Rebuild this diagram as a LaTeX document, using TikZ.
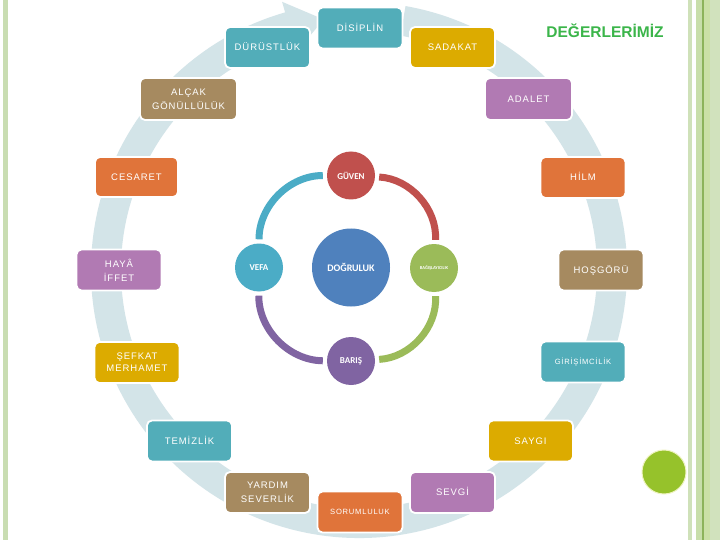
\documentclass[tikz,border=0pt]{standalone}
\usepackage{fontspec}
\setmainfont{Liberation Sans}
\newfontfamily\boxfont[LetterSpace=10]{Liberation Sans}
\newfontfamily\circfont{Carlito}
\definecolor{cteal}{HTML}{52ADB9}
\definecolor{cgold}{HTML}{DCAB00}
\definecolor{cbrown}{HTML}{A68A60}
\definecolor{corange}{HTML}{E0743A}
\definecolor{cpurple}{HTML}{B17AB3}
\definecolor{ringc}{HTML}{D3E4E8}
\definecolor{cred}{HTML}{C0504D}
\definecolor{cblueb}{HTML}{4F81BD}
\definecolor{ctealb}{HTML}{4BACC6}
\definecolor{cgreenb}{HTML}{9BBB59}
\definecolor{cviolet}{HTML}{8064A2}
\definecolor{ctitle}{HTML}{3BB54A}
\definecolor{dotgreen}{HTML}{96C22B}
\definecolor{dotedge}{HTML}{EEF3C0}
\definecolor{stA}{HTML}{C9DDB2}
\definecolor{stB}{HTML}{CFE1B9}
\definecolor{stC}{HTML}{C8DEAA}
\definecolor{stD}{HTML}{8DB35A}
\definecolor{stE}{HTML}{CBE0A6}
\definecolor{stF}{HTML}{D1E2BD}
\begin{document}
\begin{tikzpicture}[x=1pt,y=-1pt,
  box/.style={rounded corners=5pt, draw=white, line width=1.8pt, minimum width=85pt, minimum height=41pt, inner sep=0pt, text=white, font=\boxfont\fontsize{9.5}{14}\selectfont},
  one/.style={text height=6.8pt, text depth=0pt},
  two/.style={align=center},
  small/.style={font=\boxfont\fontsize{7.6}{9}\selectfont, text height=5.5pt},
  ball/.style={circle, minimum size=48pt, inner sep=0pt, text=white, font=\circfont\bfseries\fontsize{9}{10}\selectfont},
  link/.style={line width=7pt, bend left=45, shorten >=4pt, shorten <=4pt}
]
\useasboundingbox (0,0) rectangle (720,540);
\fill[white] (0,0) rectangle (720,540);
% side stripes
\fill[stA] (3,0) rectangle (8,540);
\fill[stB] (688,0) rectangle (692,540);
\fill[stC] (696,0) rectangle (702,540);
\fill[stD] (702,0) rectangle (703.5,540);
\fill[stE] (703.5,0) rectangle (710,540);
\fill[stF] (710,0) rectangle (720,540);
% big circular arrow
\fill[ringc] ([shift={(359,270)}]-80:268) arc[start angle=-80,end angle=254,radius=268]
  -- ([shift={(359,270)}]254:279) -- ([shift={(359,270)}]262:253)
  -- ([shift={(359,270)}]254:227) -- ([shift={(359,270)}]254:238)
  arc[start angle=254,end angle=-80,radius=238] -- cycle;
% title
\node[font=\bfseries\fontsize{15.5}{18}\selectfont, text=ctitle, anchor=base, inner sep=0pt] (title) at (605,38) {DEĞERLERİMİZ};
% boxes
\node[box,one,fill=cteal] (disiplin) at (360,28) {DİSİPLİN};
\node[box,one,fill=cteal] (durust) at (267.5,47.5) {DÜRÜSTLÜK};
\node[box,one,fill=cgold] (sadakat) at (452.5,47.5) {SADAKAT};
\node[box,two,fill=cbrown,minimum width=97pt,minimum height=42pt] (alcak) at (188.5,99) {ALÇAK\\GÖNÜLLÜLÜK};
\node[box,one,fill=cpurple,minimum width=87pt,minimum height=42pt] (adalet) at (528.5,99) {ADALET};
\node[box,one,fill=corange,minimum width=83pt,minimum height=40pt] (cesaret) at (136.5,177) {CESARET};
\node[box,one,fill=corange] (hilm) at (583,177.5) {HİLM};
\node[box,two,fill=cpurple] (haya) at (119,270) {HAYÂ\\İFFET};
\node[box,one,fill=cbrown] (hosgoru) at (601,270) {HOŞGÖRÜ};
\node[box,two,fill=cgold,font=\boxfont\fontsize{9.5}{12}\selectfont] (sefkat) at (137,362.5) {ŞEFKAT\\MERHAMET};
\node[box,one,small,fill=cteal] (girisim) at (583,362) {GİRİŞİMCİLİK};
\node[box,one,fill=cteal] (temiz) at (189.5,441) {TEMİZLİK};
\node[box,one,fill=cgold] (saygi) at (530.5,441) {SAYGI};
\node[box,two,fill=cbrown] (yardim) at (267.5,492.5) {YARDIM\\SEVERLİK};
\node[box,one,fill=cpurple] (sevgi) at (452.5,492.5) {SEVGİ};
\node[box,one,small,fill=corange] (sorum) at (360,512) {SORUMLULUK};
% green dot
\node[circle, fill=dotgreen, draw=dotedge, line width=1pt, minimum size=44pt, inner sep=0pt] (dot) at (664,472) {};
% inner cycle
\node[ball,fill=cred] (guven) at (351,175.5) {GÜVEN};
\node[ball,fill=cblueb,minimum size=78pt,font=\circfont\bfseries\fontsize{10}{11}\selectfont] (dogru) at (351,267.5) {DOĞRULUK};
\node[ball,fill=cgreenb,font=\circfont\bfseries\fontsize{4.5}{5}\selectfont] (bagis) at (434,268) {BAĞIŞLAYICILIK};
\node[ball,fill=cviolet] (baris) at (351,361) {BARIŞ};
\node[ball,fill=ctealb] (vefa) at (259,267.5) {VEFA};
\draw[link,ctealb] (vefa) to (guven);
\draw[link,cred] (guven) to (bagis);
\draw[link,cgreenb] (bagis) to (baris);
\draw[link,cviolet] (baris) to (vefa);
\end{tikzpicture}
\end{document}
